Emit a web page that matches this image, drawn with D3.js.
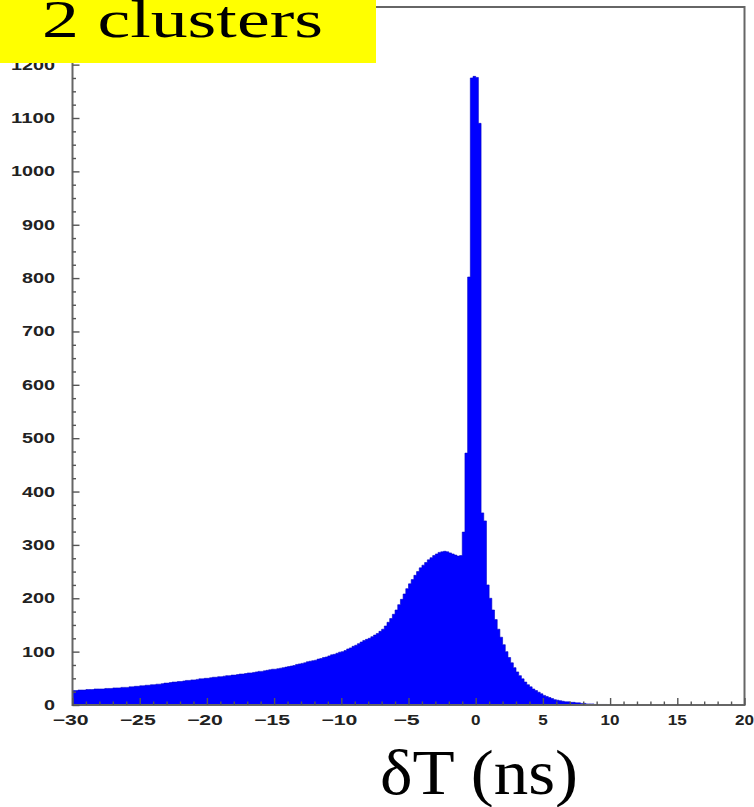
<!DOCTYPE html>
<html>
<head>
<meta charset="utf-8">
<script src="https://cdn.jsdelivr.net/npm/d3@7"></script>
<style>
  html, body { margin: 0; padding: 0; background: #fff; }
  svg { display: block; }
</style>
</head>
<body>
<svg id="chart" width="754" height="807"></svg>
<script>
// Time difference between the two clusters, histogrammed in 0.2 ns bins from -30 to 20 ns
const binStart = -30;
const binWidth = 0.2;
const counts = [
  // -30 .. -20
  27, 27, 28, 28, 28, 29, 29, 29, 30, 30,
  30, 30, 31, 31, 31, 32, 32, 32, 33, 33,
  33, 34, 34, 35, 35, 36, 36, 37, 37, 38,
  38, 39, 39, 40, 41, 41, 42, 43, 43, 44,
  44, 45, 46, 46, 47, 47, 48, 49, 49, 50,
  // -20 .. -10
  50, 51, 52, 52, 53, 53, 54, 55, 55, 56,
  56, 57, 58, 58, 59, 60, 60, 61, 62, 63,
  63, 64, 65, 66, 67, 67, 68, 69, 70, 71,
  72, 73, 74, 76, 77, 78, 79, 81, 82, 83,
  84, 86, 87, 89, 90, 92, 94, 95, 97, 99,
  // -10 .. 0
  100, 102, 105, 107, 110, 112, 115, 118, 121, 123,
  125, 128, 131, 134, 138, 142, 148, 155, 162, 170,
  178, 188, 198, 208, 218, 227, 235, 243, 250, 257,
  262, 267, 272, 276, 280, 283, 286, 287, 288, 287,
  285, 283, 281, 279, 280, 324, 472, 802, 1175, 1178,
  // 0 .. 10
  1176, 1090, 360, 345, 225, 200, 178, 160, 142, 127,
  113, 100, 89, 79, 70, 62, 55, 49, 43, 38,
  34, 30, 27, 24, 21, 18, 16, 14, 12, 10,
  9, 8, 7, 6, 6, 5, 5, 4, 4, 3,
  3, 2, 2, 2, 1, 1, 1, 1, 1, 0,
  // 10 .. 20
  0, 0, 0, 0, 0, 0, 0, 0, 0, 0,
  0, 0, 0, 0, 0, 0, 0, 0, 0, 0,
  0, 0, 0, 0, 0, 0, 0, 0, 0, 0,
  0, 0, 0, 0, 0, 0, 0, 0, 0, 0,
  0, 0, 0, 0, 0, 0, 0, 0, 0, 0
];

const xDomain = [-30, 20];
const yDomain = [0, 1308];
const xMajorTicks = [-30, -25, -20, -15, -10, -5, 0, 5, 10, 15, 20];
const yMajorTicks = [0, 100, 200, 300, 400, 500, 600, 700, 800, 900, 1000, 1100, 1200];
const xMinorStep = 1;
const yMinorStep = 25;
const titleText = "2 clusters";
const axisTitle = "\u03b4T (ns)";

const svg = d3.select("#chart");
const plotLeft = 72.5, plotRight = 744.5, plotTop = 7, plotBottom = 705;

const x = d3.scaleLinear().domain(xDomain).range([plotLeft, plotRight]);
const y = d3.scaleLinear().domain(yDomain).range([plotBottom, plotTop]);

// Histogram as a filled step outline
const pts = counts.map((c, i) => ({ x: binStart + i * binWidth, v: c }));
pts.push({ x: binStart + counts.length * binWidth, v: counts[counts.length - 1] });

const area = d3.area()
  .x(d => x(d.x))
  .y0(y(0))
  .y1(d => y(d.v))
  .curve(d3.curveStepAfter);

svg.append("path")
  .datum(pts)
  .attr("d", area)
  .attr("fill", "#0000ff")
  .attr("stroke", "#0000c8")
  .attr("stroke-width", 0.6);

// Frame
svg.append("rect")
  .attr("x", plotLeft).attr("y", plotTop)
  .attr("width", plotRight - plotLeft).attr("height", plotBottom - plotTop)
  .attr("fill", "none")
  .attr("stroke", "#666")
  .attr("stroke-width", 2);

const axisColor = "#555";
const labelFont = "'Liberation Sans', Arial, sans-serif";

// Y axis: ticks pointing into the frame
const yMinor = d3.range(0, yDomain[1] + 0.1, yMinorStep).filter(v => v % 100 !== 0);
const yAxisMajor = d3.axisRight(y).tickValues(yMajorTicks).tickSize(7).tickFormat("");
const yAxisMinor = d3.axisRight(y).tickValues(yMinor).tickSize(3.5).tickFormat("");
[yAxisMajor, yAxisMinor].forEach(ax => {
  const g = svg.append("g").attr("transform", `translate(${plotLeft},0)`).call(ax);
  g.select(".domain").remove();
  g.selectAll("line").attr("stroke", axisColor).attr("stroke-width", 1.4);
});

svg.append("g").selectAll("text")
  .data(yMajorTicks)
  .join("text")
  .attr("x", 55)
  .attr("y", d => y(d))
  .attr("dy", "0.36em")
  .attr("text-anchor", "end")
  .attr("font-family", labelFont)
  .attr("font-size", 14)
  .attr("font-weight", 600)
  .attr("fill", "#222")
  .attr("textLength", d => String(d).length * 11)
  .attr("lengthAdjust", "spacingAndGlyphs")
  .text(d => d);

// X axis: ticks pointing up from the bottom edge
const xMinor = d3.range(xDomain[0], xDomain[1] + 0.1, xMinorStep).filter(v => v % 5 !== 0);
const xAxisMajor = d3.axisTop(x).tickValues(xMajorTicks).tickSize(7).tickFormat("");
const xAxisMinor = d3.axisTop(x).tickValues(xMinor).tickSize(3.5).tickFormat("");
[xAxisMajor, xAxisMinor].forEach(ax => {
  const g = svg.append("g").attr("transform", `translate(0,${plotBottom})`).call(ax);
  g.select(".domain").remove();
  g.selectAll("line").attr("stroke", axisColor).attr("stroke-width", 1.4);
});

svg.append("g").selectAll("text")
  .data(xMajorTicks)
  .join("text")
  .attr("x", d => x(d) - (d < 0 ? 2 : 0))
  .attr("y", 725)
  .attr("text-anchor", "middle")
  .attr("font-family", labelFont)
  .attr("font-size", 14)
  .attr("font-weight", 600)
  .attr("fill", "#222")
  .attr("textLength", d => String(Math.abs(d)).length * 9.5 + (d < 0 ? 17 : 0))
  .attr("lengthAdjust", "spacingAndGlyphs")
  .text(d => (d < 0 ? "\u2212" + Math.abs(d) : String(d)));

// Axis title
svg.append("text")
  .attr("x", 380)
  .attr("y", 794)
  .attr("font-family", "'Liberation Serif', 'Times New Roman', serif")
  .attr("font-size", 64)
  .attr("fill", "#000")
  .attr("textLength", 198)
  .attr("lengthAdjust", "spacingAndGlyphs")
  .text(axisTitle);

// Title box in the top-left corner
svg.append("rect")
  .attr("x", 0).attr("y", 0)
  .attr("width", 376).attr("height", 63)
  .attr("fill", "#ffff00");
svg.append("text")
  .attr("x", 42)
  .attr("y", 37)
  .attr("font-family", "'Liberation Serif', 'Times New Roman', serif")
  .attr("font-size", 52)
  .attr("fill", "#000")
  .attr("textLength", 281)
  .attr("lengthAdjust", "spacingAndGlyphs")
  .text(titleText);
</script>
</body>
</html>
